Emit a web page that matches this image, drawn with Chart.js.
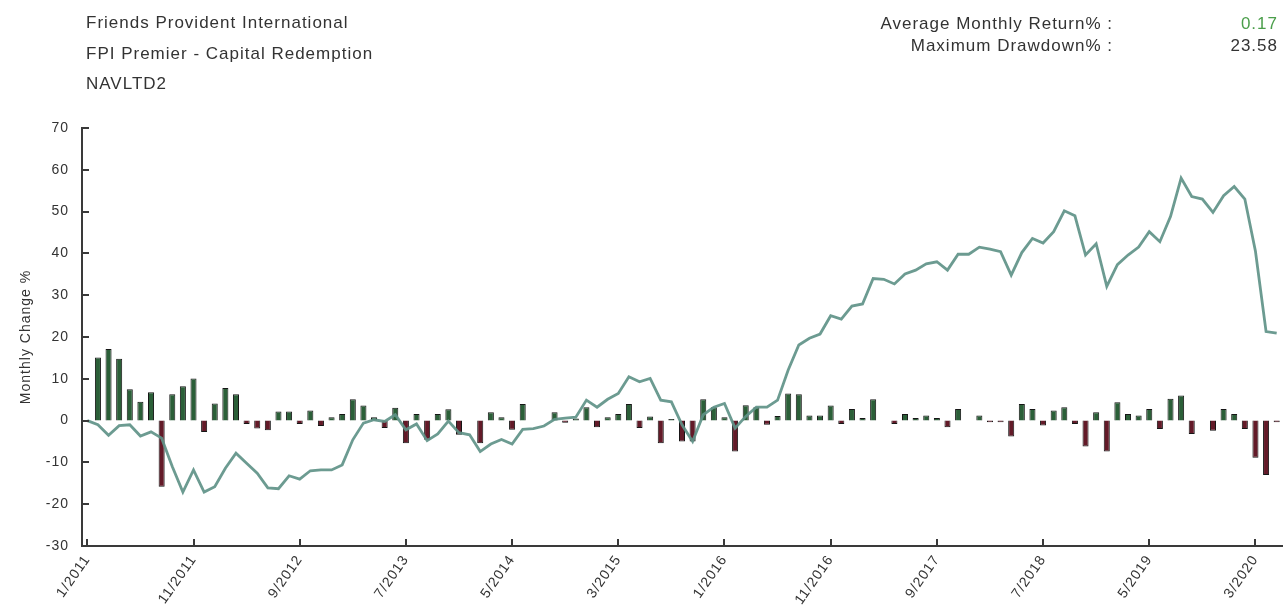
<!DOCTYPE html>
<html>
<head>
<meta charset="utf-8">
<script src="https://cdn.jsdelivr.net/npm/chart.js@4.4.1/dist/chart.umd.min.js"></script>
<style>
  body { margin: 0; background: #fff; }
  #wrap { position: relative; width: 1283px; height: 611px; overflow: hidden; }
  #chart { position: absolute; left: 0; top: 0; }
  .hdr { position: absolute; font-family: "Liberation Sans", Arial, sans-serif; font-size: 17px; letter-spacing: 1px; color: #333; white-space: nowrap; }
  #left { left: 86px; top: 8px; line-height: 30.5px; }
  #right { right: 5px; top: 13px; line-height: 22px; text-align: right; }
  #right span.v { display: inline-block; width: 165px; }
  .green { color: #4a9e4a; }
</style>
</head>
<body>
<div id="wrap">
  <canvas id="chart" width="1283" height="611"></canvas>
  <div class="hdr" id="left">Friends Provident International<br>FPI Premier - Capital Redemption<br>NAVLTD2</div>
  <div class="hdr" id="right">Average Monthly Return% :<span class="v green">0.17</span><br>Maximum Drawdown% :<span class="v">23.58</span></div>
</div>
<script>
// monthly series, 1/2011 .. 5/2020
var startYear = 2011;
var nMonths = 113;
var categories = [];
for (var i = 0; i < nMonths; i++) {
  categories.push(((i % 12) + 1) + '/' + (startYear + Math.floor(i / 12)));
}

// monthly change % (bars)
var monthlyChange = [
  0, 15.1, 17.1, 14.8, 7.5, 4.5, 6.8, -15.8, 6.3, 8.2, 10.1, -2.7,
  4.1, 7.8, 6.3, -0.8, -1.9, -2.3, 2.2, 2.2, -0.8, 2.4, -1.3, 0.8,
  1.6, 5.1, 3.6, 0.8, -1.8, 3.1, -5.4, 1.6, -4.6, 1.6, 2.7, -3.4,
  0, -5.4, 2.0, 0.8, -2.2, 4.0, 0, 0, 2.0, -0.5, 0.5, 3.2,
  -1.6, 0.8, 1.6, 4.0, -1.8, 1.0, -5.4, 0.4, -5.0, -5.0, 5.1, 3.2,
  0.8, -7.4, 3.7, 3.2, -1.0, 1.1, 6.5, 6.3, 1.2, 1.2, 3.6, -0.8,
  2.8, 0.6, 5.1, 0, -0.8, 1.6, 0.6, 1.2, 0.6, -1.6, 2.8, 0,
  1.2, -0.4, -0.4, -3.8, 4.0, 2.8, -1.2, 2.4, 3.2, -0.8, -6.2, 2.0,
  -7.4, 4.4, 1.6, 1.2, 2.8, -2.0, 5.2, 6.0, -3.2, 0, -2.4, 2.8,
  1.6, -2.0, -8.9, -13.0, -0.4
];

// cumulative change % (line)
var cumulative = [
  0, -1.0, -3.5, -1.2, -1.0, -3.7, -2.7, -4.2, -11.0, -17.1, -11.8, -17.1,
  -15.8, -11.4, -7.8, -10.2, -12.6, -16.1, -16.3, -13.2, -14.0, -12.0, -11.8, -11.8,
  -10.6, -4.6, -0.6, 0.2, -0.2, 1.4, -2.2, -0.8, -4.8, -3.2, -0.1, -2.9,
  -3.4, -7.4, -5.6, -4.5, -5.6, -2.1, -1.9, -1.3, 0.3, 0.6, 0.8, 4.9,
  3.2, 5.1, 6.5, 10.5, 9.3, 10.1, 4.9, 4.5, -1.0, -5.0, 1.4, 3.2,
  4.1, -1.8, 1.0, 3.2, 3.2, 4.9, 12.1, 18.1, 19.7, 20.7, 25.1, 24.3,
  27.4, 27.9, 34.0, 33.8, 32.7, 35.1, 36.0, 37.5, 38.0, 36.0, 39.8, 39.8,
  41.5, 41.0, 40.4, 34.8, 40.2, 43.6, 42.5, 45.2, 50.2, 49.0, 39.6, 42.3,
  32.1, 37.3, 39.6, 41.5, 45.2, 42.8, 48.8, 58.0, 53.6, 53.0, 49.8, 53.8,
  56.0, 53.0, 40.5, 21.3, 20.9
];

var yMin = -30, yMax = 70, yStep = 10;
var labelEvery = 10;

var upColor = '#2b5f38';
var downColor = '#631a28';
var axisColor = '#3a3a3a';

Chart.defaults.font.family = '"Liberation Sans", Arial, sans-serif';
Chart.defaults.font.size = 14;
Chart.defaults.color = '#333';

var spacing = {
  id: 'spacing',
  beforeUpdate: function(c) { c.ctx.letterSpacing = '1px'; },
  beforeDraw: function(c) { c.ctx.letterSpacing = '1px'; }
};

// tick marks point into the plot, like the original
var inwardTicks = {
  id: 'inwardTicks',
  afterDraw: function(chart) {
    var ctx = chart.ctx, area = chart.chartArea;
    var x = chart.scales.x, y = chart.scales.y;
    ctx.save();
    ctx.strokeStyle = axisColor;
    ctx.lineWidth = 2;
    y.ticks.forEach(function(t, i) {
      var py = Math.round(y.getPixelForTick(i));
      ctx.beginPath(); ctx.moveTo(area.left, py); ctx.lineTo(area.left + 7, py); ctx.stroke();
    });
    x.ticks.forEach(function(t, i) {
      if (i % labelEvery) return;
      var px = Math.round(x.getPixelForTick(i));
      ctx.beginPath(); ctx.moveTo(px, area.bottom); ctx.lineTo(px, area.bottom - 7); ctx.stroke();
    });
    ctx.restore();
  }
};

var chart = new Chart(document.getElementById('chart'), {
  type: 'bar',
  data: {
    labels: categories,
    datasets: [
      {
        type: 'line',
        data: cumulative,
        order: 0,
        borderColor: 'rgba(96,146,136,0.92)',
        borderWidth: 2.8,
        pointRadius: 0,
        tension: 0,
        fill: false
      },
      {
        type: 'bar',
        data: monthlyChange,
        order: 1,
        backgroundColor: monthlyChange.map(function(v) { return v >= 0 ? upColor : downColor; }),
        borderColor: '#161616',
        borderWidth: 1,
        barPercentage: 0.57,
        categoryPercentage: 1
      }
    ]
  },
  options: {
    responsive: false,
    animation: false,
    layout: { padding: { top: 128, right: 1, left: 0, bottom: 0 } },
    plugins: { legend: { display: false }, tooltip: { enabled: false } },
    scales: {
      x: {
        offset: true,
        grid: { display: false, drawTicks: false, offset: false },
        border: { display: true, color: axisColor, width: 2 },
        ticks: {
          autoSkip: false,
          minRotation: 55,
          maxRotation: 55,
          padding: 6,
          callback: function(v, i) { return i % labelEvery === 0 ? categories[i] : ''; }
        },
        afterFit: function(s) { s.height = 65; s.paddingLeft = 0; s.paddingRight = 0; }
      },
      y: {
        min: yMin,
        max: yMax,
        grid: { display: false, drawTicks: false },
        border: { display: true, color: axisColor, width: 2 },
        ticks: { stepSize: yStep, padding: 13 },
        title: { display: true, text: 'Monthly Change %', font: { size: 14 }, padding: { top: 18, bottom: 0 } },
        afterFit: function(s) { s.width = 82; }
      }
    }
  },
  plugins: [spacing, inwardTicks]
});
</script>
</body>
</html>
